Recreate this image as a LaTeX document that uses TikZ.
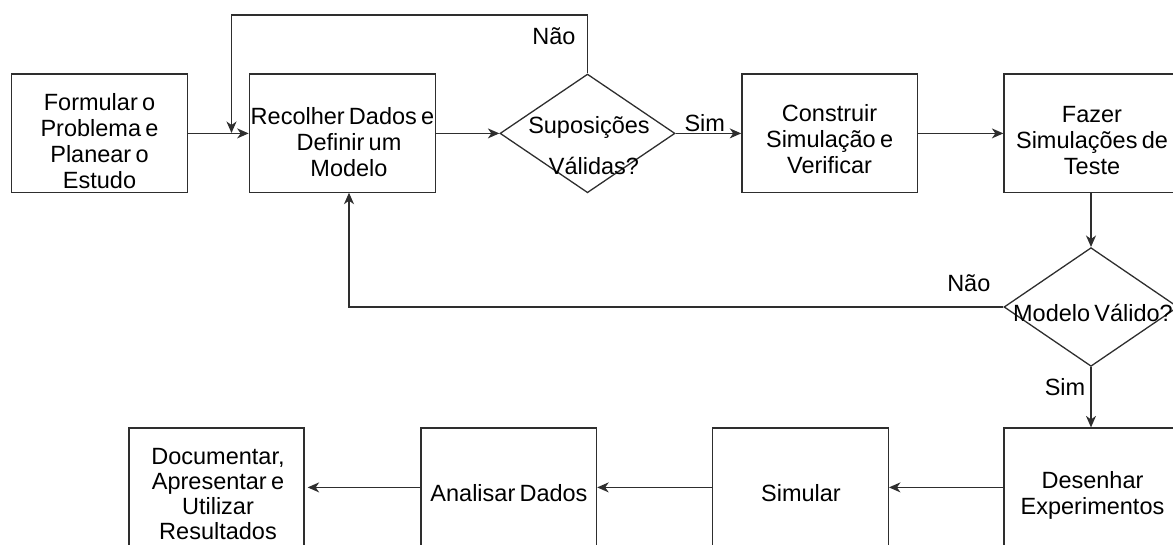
\documentclass[tikz,border=0pt]{standalone}
\usepackage{fontspec}
\setmainfont{Liberation Sans}[WordSpace=0.65]
\usetikzlibrary{arrows.meta,shapes.geometric,calc}

\tikzset{
  line/.style={draw=black!82, line width=1.3pt},
  arr/.style={line, -{Stealth[length=11.5pt, width=10pt, inset=3.5pt]}},
  stepbox/.style={line, rectangle, inner sep=0pt, minimum height=118.7pt},
  choice/.style={line, diamond, inner sep=0pt, minimum width=175pt, minimum height=118.7pt},
  txt/.style={inner sep=0pt, align=center, text=black,
    font=\fontsize{23.5pt}{26pt}\selectfont},
  lbl/.style={inner sep=0pt, text=black, font=\fontsize{23.5pt}{26pt}\selectfont},
}

\begin{document}
\begin{tikzpicture}[x=1pt, y=-1pt]
\useasboundingbox (0,0) rectangle (1173,545);

% process boxes and decisions
\node[stepbox, minimum width=175.6pt] (formular)   at (99.5,133.4)  {};
\node[stepbox, minimum width=186.4pt] (recolher)   at (342.5,133.4) {};
\node[choice]                         (suposicoes) at (587.5,133.4) {};
\node[stepbox, minimum width=175.5pt] (construir)  at (829.6,133.4) {};
\node[stepbox, minimum width=174pt]   (fazer)      at (1091,133.4)  {};
\node[choice, minimum width=174pt]    (modelo)     at (1091,307)    {};
\node[stepbox, minimum width=174pt]   (desenhar)   at (1091,487.4)  {};
\node[stepbox, minimum width=176pt]   (simular)    at (800.3,487.4) {};
\node[stepbox, minimum width=175.5pt] (analisar)   at (508.8,487.4) {};
\node[stepbox, minimum width=175pt]   (documentar) at (216.5,487.4) {};

% texts inside the shapes
\node[txt] (tformular)   at (99.5,141)   {Formular o\\Problema e\\Planear o\\Estudo};
\node[txt] (trecolher)   at (349,142.5)  {Recolher Dados e\hspace*{13pt}\\Definir um\\Modelo};
\node[txt] (tsuposicoes) at (591.5,146)  {Suposições\hspace*{5pt}\\[15pt]\hspace*{5pt}Válidas?};
\node[txt] (tconstruir)  at (829.6,139.5){Construir\\Simulação e\\Verificar};
\node[txt] (tfazer)      at (1092,140.5) {Fazer\\Simulações de\\Teste};
\node[txt] (tmodelo)     at (1093,313)   {Modelo Válido?};
\node[txt] (tdesenhar)   at (1092.5,495) {Desenhar\\Experimentos};
\node[txt] (tsimular)    at (801,493)    {Simular};
\node[txt] (tanalisar)   at (509,493)    {Analisar Dados};
\node[txt, font=\fontsize{23.5pt}{25pt}\selectfont]
           (tdocumentar) at (218,494)    {Documentar,\\Apresentar e\\Utilizar\\Resultados};

% branch labels
\node[lbl] (nao1) at (554,36)    {Não};
\node[lbl] (sim1) at (704.8,123) {Sim};
\node[lbl] (nao2) at (968.8,283) {Não};
\node[lbl] (sim2) at (1065,387)  {Sim};

% return points of the two loops
\coordinate (looptop) at (231.5,15);
\coordinate (loopend) at (231.5,133);
\coordinate (backin)  at (349,192.7);

% connectors
\draw[arr] (formular) -- (recolher);
\draw[arr] (recolher) -- (suposicoes);
\draw[arr] (suposicoes) -- (construir);
\draw[arr] (suposicoes.north) |- (looptop) -- (loopend);
\draw[arr] (construir) -- (fazer);
\draw[arr] (fazer) -- (modelo);
\draw[arr] (modelo.west) -| (backin);
\draw[arr] (modelo) -- (desenhar);
\draw[arr] (desenhar) -- (simular);
\draw[arr] (simular) -- (analisar);
\draw[arr] (analisar.west) -- ([xshift=3pt]documentar.east);
\end{tikzpicture}
\end{document}
